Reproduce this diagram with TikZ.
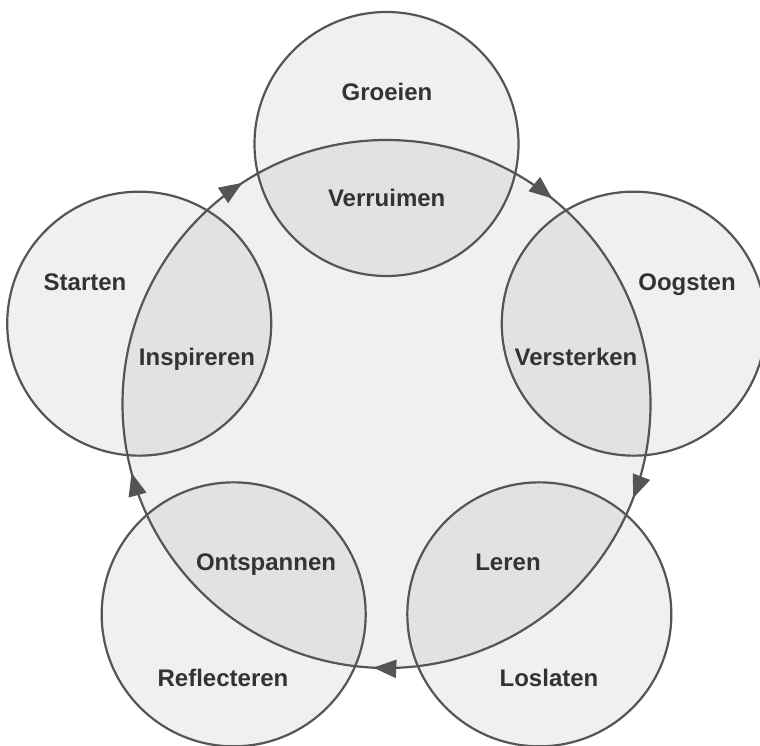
\documentclass[tikz,border=0pt]{standalone}
\usepackage{fontspec}
\setmainfont{Liberation Sans}
\usetikzlibrary{arrows.meta,decorations.markings}
\definecolor{linec}{HTML}{555555}
\definecolor{textc}{HTML}{333333}
\begin{document}
\begin{tikzpicture}[x=1pt,y=1pt,
  ring/.style={circle, inner sep=0pt, outer sep=0pt, fill=black, fill opacity=0.06},
  outline/.style={draw=linec, line width=2.2pt},
  lab/.style={anchor=base, text=textc, inner sep=0pt, font=\fontsize{24}{28}\selectfont\bfseries}
]
\useasboundingbox (0,0) rectangle (760,745);
\coordinate (c0) at (386.5,341);
% fills
\node[ring, minimum size=528pt] (big) at (c0) {};
\node[ring, minimum size=264pt] (s1) at ([shift={(90:260)}]c0) {};
\node[ring, minimum size=264pt] (s2) at ([shift={(18:260)}]c0) {};
\node[ring, minimum size=264pt] (s3) at ([shift={(-54:260)}]c0) {};
\node[ring, minimum size=264pt] (s4) at ([shift={(-126:260)}]c0) {};
\node[ring, minimum size=264pt] (s5) at ([shift={(162:260)}]c0) {};
% outlines
\foreach \n in {1,...,5} \draw[outline] (s\n.center) circle[radius=132];
\draw[outline, postaction={decorate}, decoration={markings,
  mark=at position 0.108 with {\arrow[linec]{Triangle[length=23pt,width=18pt]}},
  mark=at position 0.308 with {\arrow[linec]{Triangle[length=23pt,width=18pt]}},
  mark=at position 0.508 with {\arrow[linec]{Triangle[length=23pt,width=18pt]}},
  mark=at position 0.708 with {\arrow[linec]{Triangle[length=23pt,width=18pt]}},
  mark=at position 0.908 with {\arrow[linec]{Triangle[length=23pt,width=18pt]}}}]
  ([shift={(90:264)}]c0) arc[start angle=90, end angle=-270, radius=264];
% labels
\node[lab] (t1) at (387,644.5) {Groeien};
\node[lab] (t2) at (386.7,538.5) {Verruimen};
\node[lab] (t3) at (687,454.5) {Oogsten};
\node[lab] (t4) at (576,379.5) {Versterken};
\node[lab] (t5) at (85,454.5) {Starten};
\node[lab] (t6) at (197,379.5) {Inspireren};
\node[lab] (t7) at (266,174.5) {Ontspannen};
\node[lab] (t8) at (223,58.5) {Reflecteren};
\node[lab] (t9) at (508,174.5) {Leren};
\node[lab] (t10) at (549,58.5) {Loslaten};
\end{tikzpicture}
\end{document}
